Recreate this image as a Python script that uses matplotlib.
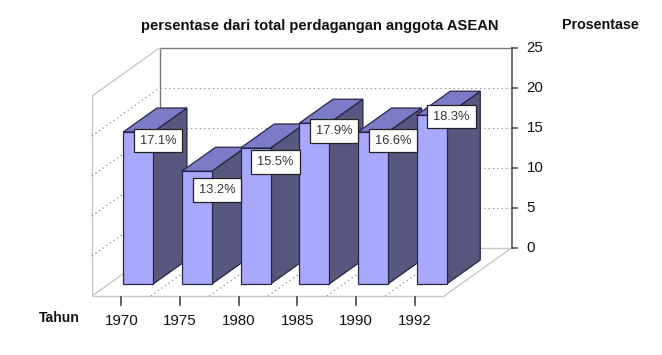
import matplotlib
matplotlib.use("Agg")
import matplotlib.pyplot as plt
from matplotlib.patches import Polygon

# ---- data ----
years = ["1970", "1975", "1980", "1985", "1990", "1992"]
bar_heights = [19.0, 14.1, 17.0, 20.1, 19.0, 21.1]
bar_labels = ["17.1%", "13.2%", "15.5%", "17.9%", "16.6%", "18.3%"]
y_ticks = [0, 5, 10, 15, 20, 25]
title = "persentase dari total perdagangan anggota ASEAN"
y_title = "Prosentase"
x_title = "Tahun"

# ---- layout (pixels) ----
W, H = 662, 355
X0, X1 = 92, 444
YF = 296
DX, DY = 67.5, -48
VS = 8.0
n = len(years)
CW = (X1 - X0) / n
BW = 0.51
D0, D1 = 0.25, 0.75
VMAX = y_ticks[-1]
label_nudge = [8.5, 19, 14, 8, 8.5, 1.3]

FRONT = "#A8A8FC"
SIDE = "#58587F"
TOP = "#7C7CC6"
EDGE = "#26264A"
LIGHT = "#C8C8C8"
DARK = "#7A7A7A"
GRID = "#8A8A8A"

plt.rcParams['font.family'] = ['Liberation Sans', 'DejaVu Sans']


def P(u, v, d):
    return (X0 + u * CW + d * DX, YF - v * VS + d * DY)


def line(p, q, **kw):
    ax.plot([p[0], q[0]], [p[1], q[1]], **kw)


fig = plt.figure(figsize=(W / 100, H / 100), dpi=100)
ax = fig.add_axes([0, 0, 1, 1])
ax.set_xlim(0, W)
ax.set_ylim(H, 0)
ax.axis('off')

# walls / floor edges
lk = dict(color=LIGHT, lw=1.0, solid_capstyle='butt')
line(P(0, 0, 0), P(0, VMAX, 0), **lk)
line(P(0, VMAX, 0), P(0, VMAX, 1), **lk)
line(P(0, 0, 0), P(0, 0, 1), **lk)
line(P(0, 0, 0), P(n, 0, 0), **lk)
line(P(n, 0, 0), P(n, 0, 1), **lk)
line(P(0, 0, 1), P(n, 0, 1), **lk)
dk = dict(color=DARK, lw=1.0, solid_capstyle='butt')
line(P(0, 0, 1), P(0, VMAX, 1), **dk)
line(P(0, VMAX, 1), P(n, VMAX, 1), **dk)
line(P(n, 0, 1), P(n, VMAX, 1), color="#555555", lw=1.2)

# gridlines
gk = dict(color=GRID, lw=0.9, linestyle=(0, (1, 2.5)))
for v in y_ticks[1:-1]:
    line(P(0, v, 1), P(n, v, 1), **gk)
    line(P(0, v, 0), P(0, v, 1), **gk)
for u in range(1, n):
    line(P(u, 0, 0), P(u, 0, 1), **gk)

# right axis ticks and labels
for v in y_ticks:
    x, y = P(n, v, 1)
    line((x, y), (x + 5, y), color="#555555", lw=1.2)
    ax.text(x + 15, y, str(v), ha='left', va='center', fontsize=10.8, color='#111111')

# x ticks and labels
for i, yr in enumerate(years):
    x, y = P(i + 0.5, 0, 0)
    line((x, y + 1), (x, y + 9), color="#444444", lw=1.2)
    ax.text(x, 321, yr, ha='center', va='center', fontsize=10.8, color='#111111')

# bars
for i, h in enumerate(bar_heights):
    uc = i + 0.5
    ul, ur = uc - BW / 2, uc + BW / 2
    front = [P(ul, 0, D0), P(ur, 0, D0), P(ur, h, D0), P(ul, h, D0)]
    side = [P(ur, 0, D0), P(ur, 0, D1), P(ur, h, D1), P(ur, h, D0)]
    top = [P(ul, h, D0), P(ur, h, D0), P(ur, h, D1), P(ul, h, D1)]
    z = 5 + i
    ax.add_patch(Polygon(side, closed=True, fc=SIDE, ec=EDGE, lw=0.9, zorder=z))
    ax.add_patch(Polygon(top, closed=True, fc=TOP, ec=EDGE, lw=0.9, zorder=z))
    ax.add_patch(Polygon(front, closed=True, fc=FRONT, ec=EDGE, lw=0.9, zorder=z))

# value labels
for i, (h, lab) in enumerate(zip(bar_heights, bar_labels)):
    x, y = P(i + 0.5, h, D0)
    ax.text(x + 20, y + label_nudge[i], lab, ha='center', va='center',
            fontsize=9.3, color='#333333', zorder=20,
            bbox=dict(boxstyle='square,pad=0.45', fc='white', ec='#222222', lw=0.9))

# titles
ax.text(320, 26, title, ha='center', va='center', fontsize=10.6,
        fontweight='bold', color='#111111')
ax.text(562, 25, y_title, ha='left', va='center', fontsize=10.3,
        fontweight='bold', color='#111111')
ax.text(59, 318, x_title, ha='center', va='center', fontsize=10.1,
        fontweight='bold', color='#111111')

fig.savefig("out.png", dpi=100)
